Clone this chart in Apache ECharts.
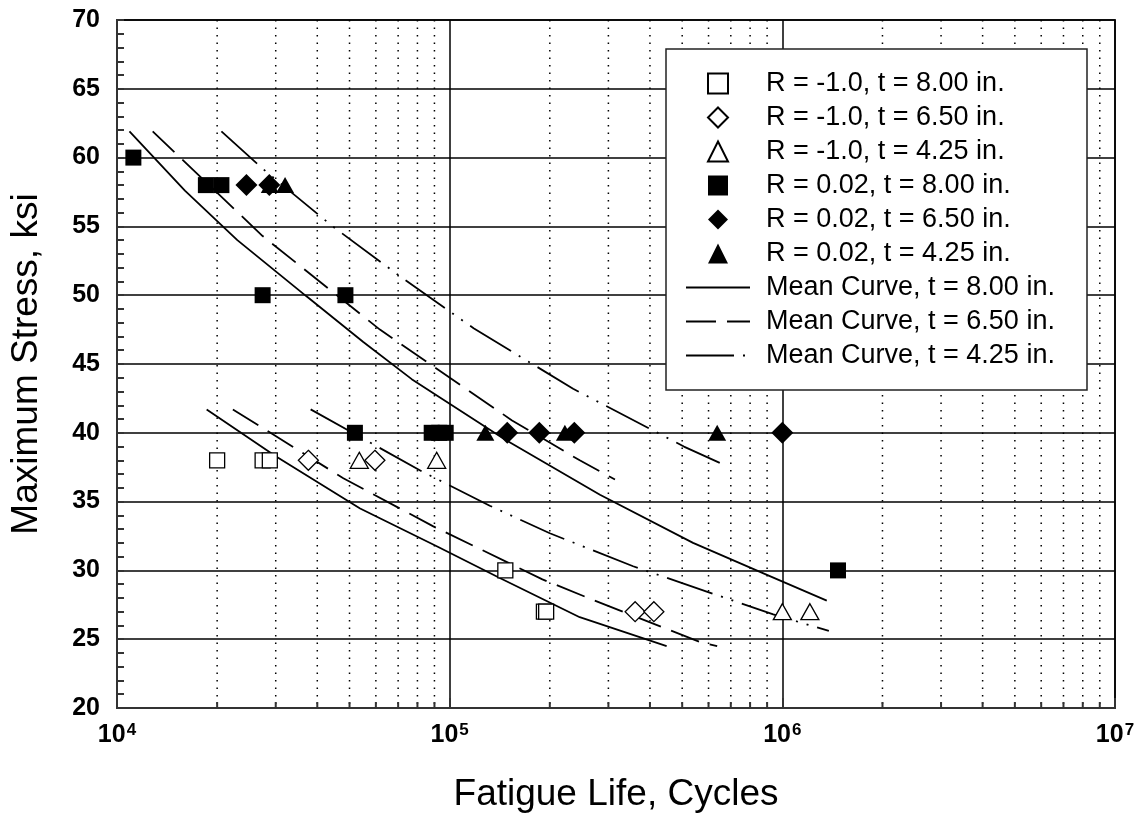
<!DOCTYPE html>
<html>
<head>
<meta charset="utf-8">
<script src="https://cdn.jsdelivr.net/npm/echarts@6/dist/echarts.min.js"></script>
<style>
html,body{margin:0;padding:0;background:#fff;}
#chart{width:1138px;height:819px;}
</style>
</head>
<body>
<div id="chart"></div>
<script>
// ---- data ----
const FONT = "'Liberation Sans', Arial, sans-serif";

// scatter: R = -1.0
const sqOpenN = [2.0e4, 2.74e4, 2.88e4, 1.47e5, 1.92e5, 1.95e5];
const sqOpenS = [38, 38, 38, 30, 27, 27];
const diaOpenN = [3.76e4, 5.96e4, 3.61e5, 4.11e5];
const diaOpenS = [38, 38, 27, 27];
const triOpenN = [5.35e4, 9.14e4, 1.0e6, 1.21e6];
const triOpenS = [38, 38, 27, 27];

// scatter: R = 0.02
const sqFillN = [1.12e4, 1.85e4, 2.06e4, 2.74e4, 4.86e4, 5.19e4, 8.83e4, 9.3e4, 9.73e4, 1.47e6];
const sqFillS = [60, 58, 58, 50, 50, 40, 40, 40, 40, 30];
const diaFillN = [2.45e4, 2.87e4, 1.49e5, 1.86e5, 2.37e5, 1.0e6];
const diaFillS = [58, 58, 40, 40, 40, 40];
const triFillN = [2.88e4, 3.2e4, 1.28e5, 2.22e5, 6.37e5];
const triFillS = [58, 58, 40, 40, 40];

// mean curves, R = 0.02 (upper set)
const upSolidN = [1.09e4, 1.6e4, 2.3e4, 3.72e4, 5.5e4, 7.69e4, 1.47e5, 2.83e5, 5.39e5, 8.74e5, 1.36e6];
const upSolidS = [61.9, 57.6, 54.0, 49.9, 46.6, 43.9, 39.5, 35.5, 32.0, 29.8, 27.8];
const upDashN = [1.28e4, 2.74e4, 6.17e4, 1.54e5, 2.46e5, 3.14e5];
const upDashS = [61.9, 54.3, 47.5, 40.9, 38.0, 36.6];
const upDDotN = [2.06e4, 2.74e4, 4.45e4, 7.25e4, 1.18e5, 2.35e5, 5.06e5, 6.64e5];
const upDDotS = [61.9, 59.2, 55.0, 51.2, 47.6, 43.2, 39.0, 37.7];

// mean curves, R = -1.0 (lower set)
const loSolidN = [1.86e4, 3.0e4, 5.38e4, 9.24e4, 1.4e5, 2.46e5, 4.49e5];
const loSolidS = [41.7, 38.3, 34.5, 31.7, 29.5, 26.6, 24.5];
const loDashN = [2.23e4, 4.79e4, 8.93e4, 1.9e5, 2.67e5, 5.65e5, 6.37e5];
const loDashS = [41.7, 36.7, 33.2, 29.35, 27.9, 24.8, 24.5];
const loDDotN = [3.82e4, 8.24e4, 1.32e5, 2.0e5, 3.56e5, 9.39e5, 1.38e6];
const loDDotS = [41.7, 37.2, 34.7, 32.7, 30.3, 26.8, 25.6];

// axes / ticks
const xMin = 1e4, xMax = 1e7;
const xTickValues = [1e4, 1e5, 1e6, 1e7];
const xTickExponents = ['4', '5', '6', '7'];
const xMinorValues = [2e4,3e4,4e4,5e4,6e4,7e4,8e4,9e4, 2e5,3e5,4e5,5e5,6e5,7e5,8e5,9e5, 2e6,3e6,4e6,5e6,6e6,7e6,8e6,9e6];
const yMin = 20, yMax = 70, yStep = 5;

const names = {
  sqOpen: 'R = -1.0, t = 8.00 in.',
  diaOpen: 'R = -1.0, t = 6.50 in.',
  triOpen: 'R = -1.0, t = 4.25 in.',
  sqFill: 'R = 0.02, t = 8.00 in.',
  diaFill: 'R = 0.02, t = 6.50 in.',
  triFill: 'R = 0.02, t = 4.25 in.',
  m8: 'Mean Curve, t = 8.00 in.',
  m65: 'Mean Curve, t = 6.50 in.',
  m425: 'Mean Curve, t = 4.25 in.'
};

// ---- build ----
const zip = (a, b) => a.map((v, i) => [v, b[i]]);

function scatter(name, N, S, symbol, size, filled) {
  return {
    name, type: 'scatter', z: 3, symbol, symbolSize: size,
    data: zip(N, S),
    itemStyle: filled ? { color: '#000', borderColor: '#000', borderWidth: 0, opacity: 1 }
                      : { color: '#fff', borderColor: '#000', borderWidth: 1.3, opacity: 1 },
    emphasis: { disabled: true }
  };
}
function curve(name, N, S, type) {
  return {
    name, type: 'line', z: 2, symbol: 'none', showSymbol: false,
    smooth: false,
    data: zip(N, S),
    lineStyle: { color: '#000', width: 1.8, type },
    itemStyle: { color: '#000', opacity: 0 },
    emphasis: { disabled: true }
  };
}
const DASH = [30, 11];
const DDOT = [48, 9, 2, 9, 2, 9];

const chart = echarts.init(document.getElementById('chart'), null, { renderer: 'canvas' });

const lineLegendItem = n => ({ name: n, itemStyle: { opacity: 0 } });
const LEG_FONT = { fontSize: 27, fontFamily: FONT, color: '#000', lineHeight: 27 };

const option = {
  animation: false,
  backgroundColor: '#fff',
  textStyle: { fontFamily: FONT, color: '#000' },
  grid: { left: 117, right: 23, top: 20, bottom: 111, show: true, borderColor: '#333', borderWidth: 2, backgroundColor: 'transparent' },
  xAxis: {
    type: 'log', logBase: 10, min: xMin, max: xMax,
    name: 'Fatigue Life, Cycles', nameLocation: 'middle', nameGap: 68,
    nameTextStyle: { fontSize: 37, fontFamily: FONT, color: '#000' },
    axisLine: { show: true, onZero: false, lineStyle: { color: '#333', width: 2 } },
    axisTick: { show: true, inside: true, length: 10, lineStyle: { color: '#333', width: 2 } },
    axisLabel: {
      margin: 14, color: '#000',
      formatter: v => {
        const i = xTickValues.findIndex(t => Math.abs(t - v) / t < 1e-6);
        return i < 0 ? '' : '{b|10}{s|' + xTickExponents[i] + '}';
      },
      rich: {
        b: { fontSize: 25, fontWeight: 'bold', fontFamily: FONT, color: '#000', lineHeight: 26 },
        s: { fontSize: 17, fontWeight: 'bold', fontFamily: FONT, color: '#000', verticalAlign: 'top', lineHeight: 17, padding: [0, 0, 0, 1] }
      }
    },
    splitLine: { show: true, lineStyle: { color: '#000', width: 1.5 } },
    minorTick: { show: false }, minorSplitLine: { show: false }
  },
  yAxis: {
    type: 'value', min: yMin, max: yMax, interval: yStep,
    name: 'Maximum Stress, ksi', nameLocation: 'middle', nameGap: 72,
    nameTextStyle: { fontSize: 37, fontFamily: FONT, color: '#000' },
    axisLine: { show: true, onZero: false, lineStyle: { color: '#333', width: 2 } },
    axisTick: { show: true, inside: true, length: 7, lineStyle: { color: '#333', width: 2 } },
    minorTick: { show: true, splitNumber: 5, length: 7, lineStyle: { color: '#333', width: 2 } },
    axisLabel: { margin: 17, fontSize: 25, fontWeight: 'bold', fontFamily: FONT, color: '#000' },
    splitLine: { show: true, lineStyle: { color: '#000', width: 1.5 } }
  },
  legend: [
    {
      // symbol entries; its box also frames the line entries below
      orient: 'vertical', left: 666, top: 49, z: 4,
      padding: [21, 32, 21 + 3 * 34, 41],
      itemWidth: 20, itemHeight: 20, itemGap: 7,
      backgroundColor: '#fff', borderColor: '#222', borderWidth: 1.5,
      selectedMode: false,
      textStyle: Object.assign({ width: 289, padding: [0, 0, 0, 33] }, LEG_FONT),
      data: [names.sqOpen, names.diaOpen, names.triOpen, names.sqFill, names.diaFill, names.triFill]
    },
    {
      orient: 'vertical', left: 685, top: 49 + 21 + 6 * 34, z: 5,
      padding: 0,
      itemWidth: 64, itemHeight: 16, itemGap: 7,
      selectedMode: false,
      textStyle: Object.assign({ padding: [0, 0, 0, 11] }, LEG_FONT),
      data: [lineLegendItem(names.m8), lineLegendItem(names.m65), lineLegendItem(names.m425)]
    }
  ],
  series: [
    {
      name: 'minorGrid', type: 'custom', z: 1, silent: true, clip: false,
      data: xMinorValues.map(v => [v, yMin]),
      encode: { x: 0, y: 1 },
      renderItem: (params, api) => {
        const v = api.value(0);
        const top = api.coord([v, yMax]);
        const bot = api.coord([v, yMin]);
        return {
          type: 'group',
          children: [
            { type: 'line', shape: { x1: top[0], y1: top[1], x2: bot[0], y2: bot[1] },
              style: { stroke: '#000', lineWidth: 1.5, lineDash: [1.5, 6] } },
            { type: 'line', shape: { x1: bot[0], y1: bot[1], x2: bot[0], y2: bot[1] - 6 },
              style: { stroke: '#333', lineWidth: 2 } }
          ]
        };
      }
    },
    curve(names.m8, upSolidN, upSolidS, 'solid'),
    curve(names.m65, upDashN, upDashS, DASH),
    curve(names.m425, upDDotN, upDDotS, DDOT),
    curve(names.m8, loSolidN, loSolidS, 'solid'),
    curve(names.m65, loDashN, loDashS, DASH),
    curve(names.m425, loDDotN, loDDotS, DDOT),
    scatter(names.sqOpen, sqOpenN, sqOpenS, 'rect', 15, false),
    scatter(names.diaOpen, diaOpenN, diaOpenS, 'diamond', 20, false),
    scatter(names.triOpen, triOpenN, triOpenS, 'triangle', [18, 16], false),
    scatter(names.sqFill, sqFillN, sqFillS, 'rect', 16, true),
    scatter(names.diaFill, diaFillN, diaFillS, 'diamond', 22, true),
    scatter(names.triFill, triFillN, triFillS, 'triangle', [18, 16], true)
  ]
};
chart.setOption(option);
</script>
</body>
</html>
